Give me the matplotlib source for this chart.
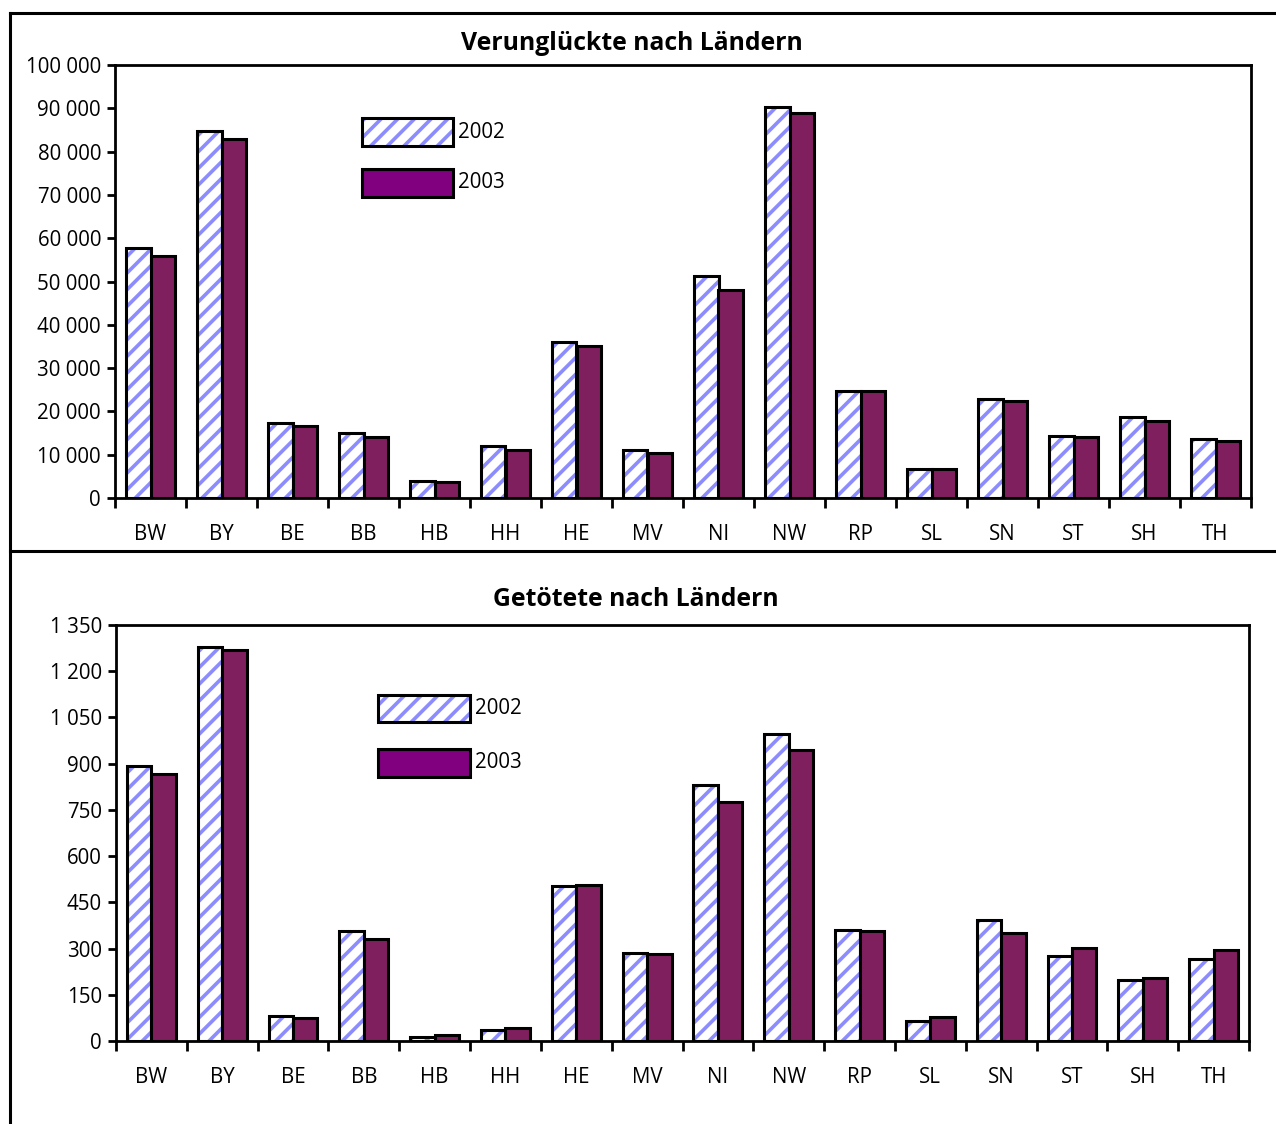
import matplotlib
matplotlib.use("Agg")
import matplotlib.pyplot as plt
import numpy as np
from matplotlib.patches import Rectangle
from matplotlib.lines import Line2D

plt.rcParams['font.family'] = ['Open Sans', 'DejaVu Sans']
plt.rcParams['hatch.linewidth'] = 2.6

laender = ["BW", "BY", "BE", "BB", "HB", "HH", "HE", "MV", "NI", "NW",
           "RP", "SL", "SN", "ST", "SH", "TH"]
verung_2002 = [57800, 84800, 17300, 15000, 3900, 12000, 36000, 11100, 51300, 90300,
               24700, 6600, 22900, 14300, 18600, 13600]
verung_2003 = [55900, 82900, 16600, 14100, 3700, 11100, 35100, 10400, 48000, 88900,
               24700, 6600, 22400, 14200, 17800, 13200]
getoetet_2002 = [892, 1279, 81, 357, 12, 35, 503, 286, 831, 996,
                 360, 65, 393, 276, 198, 265]
getoetet_2003 = [866, 1269, 75, 331, 19, 43, 506, 282, 776, 944,
                 357, 79, 352, 303, 203, 295]
jahre = ["2002", "2003"]
yticks_top = [0, 10000, 20000, 30000, 40000, 50000, 60000, 70000, 80000, 90000, 100000]
yticks_bot = [0, 150, 300, 450, 600, 750, 900, 1050, 1200, 1350]

HATCH_BLUE = "#8C8CFF"
BAR_2003 = "#7F1F5E"
LEG_2003 = "#800080"
FS = 14.8

W, H = 1276, 1124
fig = plt.figure(figsize=(W / 100, H / 100), dpi=100)


def px(x, y):
    return x / W, 1 - y / H


def make_axes(l, t, r, b):
    x0, y1 = px(l, t)
    x1, y0 = px(r, b)
    return fig.add_axes([x0, y0, x1 - x0, y1 - y0])


def fmt(v):
    return f"{v:,}".replace(",", " ")


def draw_chart(ax, v02, v03, yticks):
    n = len(laender)
    x = np.arange(n)
    w = 0.345
    ax.bar(x - w / 2, v02, w, facecolor="white", edgecolor=HATCH_BLUE,
           hatch="//", linewidth=0, zorder=2)
    ax.bar(x - w / 2, v02, w, facecolor="none", edgecolor="black",
           linewidth=2.2, zorder=3)
    ax.bar(x + w / 2, v03, w, facecolor=BAR_2003, edgecolor="black",
           linewidth=2.2, zorder=3)
    ax.set_xlim(-0.5, n - 0.5)
    ax.set_ylim(yticks[0], yticks[-1])
    ax.set_yticks(yticks)
    ax.set_yticklabels([fmt(v) for v in yticks], fontsize=FS)
    ax.set_xticks(x)
    ax.set_xticklabels(laender, fontsize=FS)
    ax.set_xticks(np.arange(n + 1) - 0.5, minor=True)
    ax.tick_params(axis="x", which="major", length=0, pad=19)
    ax.tick_params(axis="x", which="minor", length=7, width=2, direction="out")
    ax.tick_params(axis="y", length=6, width=2, direction="out", pad=4)
    for s in ax.spines.values():
        s.set_linewidth(2)


ax1 = make_axes(115, 65, 1251, 498)
draw_chart(ax1, verung_2002, verung_2003, yticks_top)
ax2 = make_axes(116, 625, 1249, 1041)
draw_chart(ax2, getoetet_2002, getoetet_2003, yticks_bot)

tx, ty = px(632, 43)
fig.text(tx, ty, "Verunglückte nach Ländern", fontsize=17.8, fontweight="bold",
         ha="center", va="center")
tx, ty = px(636, 599)
fig.text(tx, ty, "Getötete nach Ländern", fontsize=17.8, fontweight="bold",
         ha="center", va="center")


def legend_box(x0, y0, x1, y1, label, hatched):
    (fx0, fy1) = px(x0, y0)
    (fx1, fy0) = px(x1, y1)
    if hatched:
        fig.add_artist(Rectangle((fx0, fy0), fx1 - fx0, fy1 - fy0,
                                 transform=fig.transFigure, facecolor="white",
                                 edgecolor=HATCH_BLUE, hatch="//", linewidth=0))
        fig.add_artist(Rectangle((fx0, fy0), fx1 - fx0, fy1 - fy0,
                                 transform=fig.transFigure, facecolor="none",
                                 edgecolor="black", linewidth=2.2))
    else:
        fig.add_artist(Rectangle((fx0, fy0), fx1 - fx0, fy1 - fy0,
                                 transform=fig.transFigure, facecolor=LEG_2003,
                                 edgecolor="black", linewidth=2.2))
    tx, ty = px(x1 + 5, (y0 + y1) / 2)
    fig.text(tx, ty, label, fontsize=FS, va="center", ha="left")


legend_box(362, 118, 453, 146, jahre[0], True)
legend_box(362, 169, 453, 197, jahre[1], False)
legend_box(378, 695, 470, 722, jahre[0], True)
legend_box(378, 749, 470, 777, jahre[1], False)

for (xa, ya, xb, yb) in [(10, 13, 1276, 13), (10, 13, 10, 1124), (10, 551, 1276, 551)]:
    p0 = px(xa, ya)
    p1 = px(xb, yb)
    fig.add_artist(Line2D([p0[0], p1[0]], [p0[1], p1[1]], transform=fig.transFigure,
                          color="black", linewidth=2.2))

fig.savefig("out.png", dpi=100, facecolor="white")
